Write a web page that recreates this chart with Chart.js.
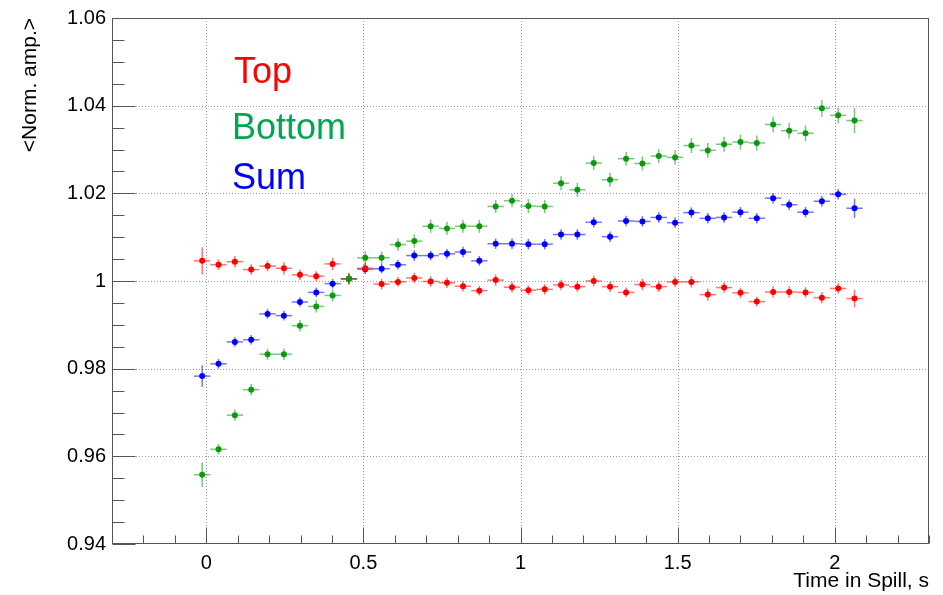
<!DOCTYPE html>
<html><head><meta charset="utf-8">
<script src="https://cdn.jsdelivr.net/npm/chart.js@4/dist/chart.umd.min.js"></script>
<style>html,body{margin:0;padding:0;background:#fff;overflow:hidden}canvas{display:block}</style>
</head><body>
<canvas id="c" width="943" height="595"></canvas>
<script>
// ---- data ----
const timeInSpill = [-0.013, 0.039, 0.091, 0.143, 0.195, 0.247, 0.298, 0.350, 0.402, 0.454,
  0.506, 0.558, 0.610, 0.662, 0.714, 0.766, 0.817, 0.869, 0.921, 0.973,
  1.025, 1.077, 1.129, 1.181, 1.233, 1.285, 1.336, 1.388, 1.440, 1.492,
  1.544, 1.596, 1.648, 1.700, 1.752, 1.804, 1.855, 1.907, 1.959, 2.011, 2.063];
const timeHalfWidth = 0.026;

const topAmp = [1.0046, 1.0037, 1.0044, 1.0026, 1.0034, 1.0029, 1.0014, 1.0011, 1.0039, 1.0005,
  1.0029, 0.9993, 0.9998, 1.0007, 0.9999, 0.9996, 0.9988, 0.9978, 1.0002, 0.9986,
  0.9979, 0.9981, 0.9991, 0.9987, 1.0000, 0.9987, 0.9974, 0.9992, 0.9987, 0.9998,
  0.9998, 0.9969, 0.9985, 0.9973, 0.9953, 0.9975, 0.9975, 0.9974, 0.9962, 0.9983, 0.9960];
const topErr = [0.0031, 0.0012, 0.0013, 0.0012, 0.0012, 0.0014, 0.0012, 0.0011, 0.0014, 0.0012,
  0.0012, 0.0012, 0.0011, 0.0012, 0.0012, 0.0012, 0.0012, 0.0011, 0.0013, 0.0012,
  0.0011, 0.0012, 0.0012, 0.0012, 0.0012, 0.0012, 0.0011, 0.0013, 0.0012, 0.0012,
  0.0013, 0.0014, 0.0012, 0.0012, 0.0011, 0.0013, 0.0013, 0.0012, 0.0013, 0.0012, 0.0020];

const bottomAmp = [0.9558, 0.9616, 0.9694, 0.9752, 0.9833, 0.9833, 0.9898, 0.9942, 0.9967, 1.0005,
  1.0053, 1.0053, 1.0083, 1.0091, 1.0125, 1.0120, 1.0125, 1.0125, 1.0170, 1.0183,
  1.0171, 1.0170, 1.0223, 1.0208, 1.0269, 1.0231, 1.0279, 1.0268, 1.0285, 1.0282,
  1.0309, 1.0298, 1.0312, 1.0317, 1.0315, 1.0357, 1.0343, 1.0337, 1.0394, 1.0378, 1.0366];
const bottomErr = [0.0028, 0.0012, 0.0013, 0.0013, 0.0013, 0.0013, 0.0013, 0.0014, 0.0014, 0.0014,
  0.0015, 0.0014, 0.0014, 0.0015, 0.0015, 0.0015, 0.0015, 0.0015, 0.0015, 0.0015,
  0.0016, 0.0015, 0.0016, 0.0016, 0.0016, 0.0016, 0.0016, 0.0016, 0.0016, 0.0017,
  0.0017, 0.0017, 0.0017, 0.0017, 0.0017, 0.0018, 0.0018, 0.0018, 0.0019, 0.0018, 0.0029];

const sumAmp = [0.9783, 0.9811, 0.9861, 0.9866, 0.9925, 0.9921, 0.9952, 0.9974, 0.9994, 1.0005,
  1.0027, 1.0028, 1.0037, 1.0058, 1.0058, 1.0062, 1.0066, 1.0046, 1.0085, 1.0085,
  1.0084, 1.0084, 1.0106, 1.0106, 1.0134, 1.0101, 1.0137, 1.0136, 1.0145, 1.0133,
  1.0156, 1.0143, 1.0145, 1.0157, 1.0143, 1.0189, 1.0174, 1.0157, 1.0182, 1.0198, 1.0166];
const sumErr = [0.0025, 0.0011, 0.0011, 0.0011, 0.0011, 0.0011, 0.0011, 0.0011, 0.0011, 0.0011,
  0.0011, 0.0011, 0.0011, 0.0012, 0.0011, 0.0011, 0.0012, 0.0011, 0.0012, 0.0012,
  0.0012, 0.0012, 0.0012, 0.0012, 0.0012, 0.0012, 0.0012, 0.0012, 0.0012, 0.0012,
  0.0012, 0.0012, 0.0012, 0.0012, 0.0012, 0.0012, 0.0012, 0.0012, 0.0012, 0.0012, 0.0022];

const seriesNames = ['Top', 'Bottom', 'Sum'];
const xTickValues = [0, 0.5, 1, 1.5, 2];
const yTickValues = [0.94, 0.96, 0.98, 1.00, 1.02, 1.04, 1.06];
const xRange = [-0.3, 2.3];
const yRange = [0.94, 1.06];
const xTitle = 'Time in Spill, s';
const yTitle = '<Norm. amp.>';

// ---- styling ----
const FONT = "'Liberation Sans', Arial, Helvetica, sans-serif";
const markerColors = ['#ff0000', '#0d990d', '#0000ff'];
const barColors = ['rgba(255,0,0,0.55)', 'rgba(13,153,13,0.55)', 'rgba(0,0,255,0.55)'];
const labelColors = ['#ff0000', '#00a650', '#0000ff'];
const labelPos = [[234, 83], [232, 139], [232, 189]];

const seriesValues = [topAmp, bottomAmp, sumAmp];
const seriesErrors = [topErr, bottomErr, sumErr];
const drawOrder = [1, 0, 2];

const datasets = seriesNames.map((name, k) => ({
  label: name,
  data: timeInSpill.map((t, i) => ({x: t, y: seriesValues[k][i]})),
  yErr: seriesErrors[k],
  barColor: barColors[k],
  labelColor: labelColors[k],
  labelPos: labelPos[k],
  backgroundColor: markerColors[k],
  borderColor: markerColors[k],
  borderWidth: 0,
  pointRadius: 3,
  pointHoverRadius: 3,
  pointStyle: 'circle',
  showLine: false,
  order: drawOrder[k]
}));

function line(ctx, x1, y1, x2, y2) { ctx.beginPath(); ctx.moveTo(x1, y1); ctx.lineTo(x2, y2); ctx.stroke(); }

const rootStyle = {
  id: 'rootStyle',
  beforeDatasetsDraw(chart) {
    const {ctx, chartArea: a, scales: {x, y}} = chart;
    ctx.save();
    ctx.lineWidth = 1;
    ctx.strokeStyle = '#999';
    ctx.setLineDash([1, 2]);
    xTickValues.forEach(v => { const p = Math.round(x.getPixelForValue(v)) + 0.5; line(ctx, p, a.top, p, a.bottom); });
    yTickValues.forEach(v => {
      if (v <= yRange[0] + 1e-9 || v >= yRange[1] - 1e-9) return;
      const p = Math.round(y.getPixelForValue(v)) + 0.5; line(ctx, a.left, p, a.right, p);
    });
    ctx.setLineDash([]);
    ctx.restore();
  },
  beforeDatasetDraw(chart, args) {
    const ds = chart.data.datasets[args.index];
    const {ctx, scales: {x, y}} = chart;
    ctx.save();
    ctx.strokeStyle = ds.barColor;
    ctx.lineWidth = 1.5;
    ds.data.forEach((pt, i) => {
      const px = x.getPixelForValue(pt.x), py = y.getPixelForValue(pt.y);
      const x1 = x.getPixelForValue(pt.x - timeHalfWidth), x2 = x.getPixelForValue(pt.x + timeHalfWidth);
      const y1 = y.getPixelForValue(pt.y - ds.yErr[i]), y2 = y.getPixelForValue(pt.y + ds.yErr[i]);
      line(ctx, x1, py, x2, py);
      line(ctx, px, y1, px, y2);
    });
    ctx.restore();
  },
  afterDatasetsDraw(chart) {
    const {ctx, chartArea: a, scales: {x, y}} = chart;
    ctx.save();
    ctx.lineWidth = 1;
    ctx.strokeStyle = '#555';
    const L = Math.round(a.left) + 0.5, R = Math.round(a.right) - 0.5;
    const T = Math.round(a.top) + 0.5, B = Math.round(a.bottom) - 0.5;
    ctx.strokeRect(L, T, R - L, B - T);
    // y ticks (inward)
    for (let v = yRange[0]; v <= yRange[1] + 1e-9; v += 0.005) {
      const major = yTickValues.some(t => Math.abs(t - v) < 1e-6);
      const p = Math.round(y.getPixelForValue(v)) + 0.5;
      line(ctx, L, p, L + (major ? 23 : 12), p);
    }
    // x ticks (inward)
    for (let v = -0.3; v <= xRange[1] + 1e-9; v += 0.1) {
      const major = xTickValues.some(t => Math.abs(t - v) < 1e-6);
      const p = Math.round(x.getPixelForValue(v)) + 0.5;
      line(ctx, p, B, p, B - (major ? 16 : 8));
    }
    // series labels
    ctx.font = '36px ' + FONT;
    ctx.textBaseline = 'alphabetic';
    ctx.textAlign = 'left';
    chart.data.datasets.forEach(ds => {
      ctx.fillStyle = ds.labelColor;
      ctx.fillText(ds.label, ds.labelPos[0], ds.labelPos[1]);
    });
    ctx.restore();
  }
};

const fmt = v => String(parseFloat(Number(v).toFixed(2)));

new Chart(document.getElementById('c'), {
  type: 'scatter',
  data: {datasets},
  options: {
    responsive: false,
    devicePixelRatio: 1,
    animation: false,
    events: [],
    layout: {padding: {left: 0, right: 14, top: 15, bottom: 0}},
    plugins: {legend: {display: false}, tooltip: {enabled: false}},
    scales: {
      x: {
        type: 'linear', min: xRange[0], max: xRange[1],
        afterBuildTicks: s => { s.ticks = xTickValues.map(v => ({value: v})); },
        afterFit: s => { s.height = 51; },
        grid: {display: false, drawTicks: false},
        border: {display: false},
        ticks: {font: {family: FONT, size: 20}, color: '#000', padding: 7, maxRotation: 0, autoSkip: false, callback: fmt},
        title: {display: true, text: xTitle, align: 'end', color: '#000', font: {family: FONT, size: 21}, padding: {top: 0, bottom: 1}}
      },
      y: {
        type: 'linear', min: yRange[0], max: yRange[1],
        afterBuildTicks: s => { s.ticks = yTickValues.map(v => ({value: v})); },
        afterFit: s => { s.width = 112; },
        grid: {display: false, drawTicks: false},
        border: {display: false},
        ticks: {font: {family: FONT, size: 20}, color: '#000', padding: 6, autoSkip: false, callback: fmt},
        title: {display: true, text: yTitle, align: 'end', color: '#000', font: {family: FONT, size: 21}, padding: {top: 18, bottom: 0}}
      }
    }
  },
  plugins: [rootStyle]
});
</script>
</body></html>
